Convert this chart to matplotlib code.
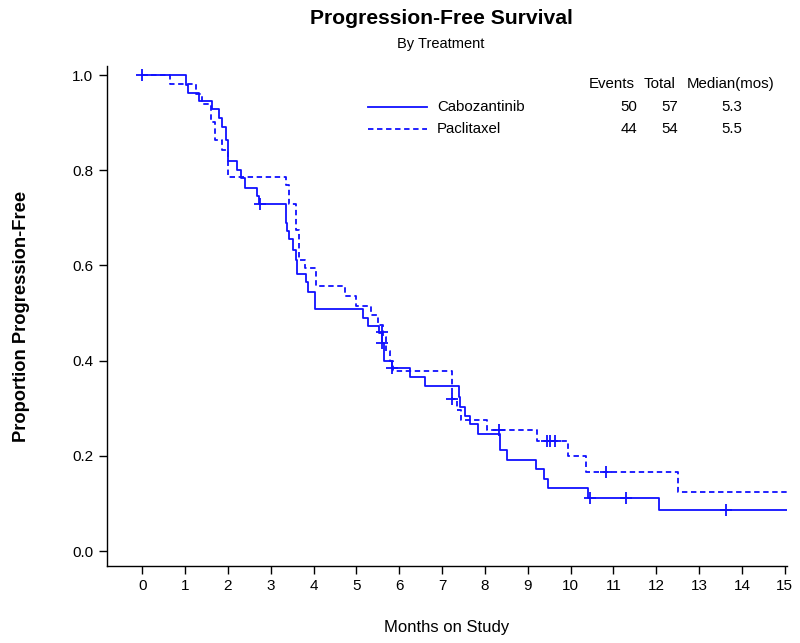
import matplotlib
matplotlib.use("Agg")
import matplotlib.pyplot as plt
from matplotlib import font_manager

# ---------------- data ----------------
cabo_t = [0, 1.02, 1.08, 1.33, 1.62, 1.79, 1.86, 1.96, 2.01, 2.22, 2.30, 2.40, 2.67, 2.73,
          3.35, 3.39, 3.43, 3.51, 3.59, 3.62, 3.82, 3.86, 4.03, 5.16, 5.28, 5.53, 5.59, 5.64,
          5.82, 6.25, 6.60, 7.40, 7.43, 7.53, 7.65, 7.84, 8.35, 8.52, 9.20, 9.38, 9.47,
          10.41, 12.06]
cabo_s = [1.0, 0.979, 0.962, 0.945, 0.928, 0.910, 0.890, 0.863, 0.820, 0.800, 0.783, 0.763, 0.746, 0.729,
          0.690, 0.672, 0.655, 0.632, 0.611, 0.583, 0.566, 0.545, 0.508, 0.490, 0.473, 0.457, 0.436, 0.400,
          0.384, 0.366, 0.346, 0.324, 0.303, 0.284, 0.266, 0.246, 0.212, 0.191, 0.172, 0.151, 0.132,
          0.112, 0.086]
cabo_cens_t = [0.0, 2.75, 5.60, 5.82, 10.45, 11.30, 13.63]
cabo_cens_s = [1.0, 0.729, 0.436, 0.384, 0.112, 0.112, 0.086]

pac_t = [0, 0.64, 1.26, 1.40, 1.61, 1.70, 1.87, 2.01, 3.36, 3.43, 3.59, 3.65, 3.80, 4.06, 4.74,
         4.99, 5.34, 5.50, 5.62, 5.68, 5.78, 5.85, 7.23, 7.35, 7.45, 8.05, 9.21, 9.94, 10.37, 12.50]
pac_s = [1.0, 0.981, 0.960, 0.940, 0.902, 0.863, 0.842, 0.786, 0.768, 0.730, 0.674, 0.611, 0.594, 0.557, 0.535,
         0.515, 0.496, 0.475, 0.450, 0.420, 0.400, 0.378, 0.319, 0.297, 0.275, 0.254, 0.232, 0.200, 0.165, 0.124]
pac_cens_t = [5.60, 7.24, 8.33, 9.45, 9.53, 9.63, 10.83]
pac_cens_s = [0.460, 0.319, 0.254, 0.232, 0.232, 0.232, 0.165]

x_max = 15.05
groups = ["Cabozantinib", "Paclitaxel"]
events = [50, 44]
totals = [57, 54]
medians = ["5.3", "5.5"]
x_ticks = list(range(0, 16))
y_ticks = [0.0, 0.2, 0.4, 0.6, 0.8, 1.0]

# ---------------- fonts ----------------
names = {f.name for f in font_manager.fontManager.ttflist}
if "Liberation Sans Narrow" in names:
    fam = ["Liberation Sans Narrow", "DejaVu Sans"]
    k = 1.15
else:
    fam = ["Liberation Sans", "DejaVu Sans"]
    k = 1.0
plt.rcParams["font.family"] = fam

blue = "#1010ff"

fig = plt.figure(figsize=(8.0, 6.43), dpi=100)
ax = fig.add_axes([107 / 800, 1 - 566 / 643, (787 - 107) / 800, (566 - 66) / 643])

ax.step(cabo_t + [x_max], cabo_s + [cabo_s[-1]], where="post", color=blue, lw=1.3)
ax.step(pac_t + [x_max], pac_s + [pac_s[-1]], where="post", color=blue, lw=1.3,
        linestyle=(0, (3, 2)))
ax.plot(cabo_cens_t, cabo_cens_s, "+", color=blue, ms=9, mew=1.3)
ax.plot(pac_cens_t, pac_cens_s, "+", color=blue, ms=9, mew=1.3)

ax.set_xlim(-0.82, x_max)
ax.set_ylim(-0.0315, 1.019)
ax.set_xticks(x_ticks)
ax.set_xticklabels([str(v) for v in x_ticks])
ax.set_yticks(y_ticks)
ax.set_yticklabels([f"{v:.1f}" for v in y_ticks])
ax.tick_params(direction="out", length=6, width=1.0, labelsize=11 * k, colors="black")
ax.tick_params(axis="x", pad=3)
ax.tick_params(axis="y", pad=4)
for side in ["top", "right"]:
    ax.spines[side].set_visible(False)
for side in ["left", "bottom"]:
    ax.spines[side].set_linewidth(1.0)

ax.set_xlabel("Months on Study", fontsize=12 * k, labelpad=20)
ax.set_ylabel("Proportion Progression-Free", fontsize=13.2 * k, fontweight="bold", labelpad=30)

fig.text(441 / 800, 1 - 18 / 643, "Progression-Free Survival", ha="center", va="center",
         fontsize=15.2 * k, fontweight="bold")
fig.text(441 / 800, 1 - 44 / 643, "By Treatment", ha="center", va="center", fontsize=10.5 * k)

# legend / summary table
fs = 10.8 * k
fig.text(635 / 800, 1 - 84 / 643, "Events", ha="right", va="center", fontsize=fs)
fig.text(676 / 800, 1 - 84 / 643, "Total", ha="right", va="center", fontsize=fs)
fig.text(731 / 800, 1 - 84 / 643, "Median(mos)", ha="center", va="center", fontsize=fs)
row_y = [107, 129]
styles = ["-", (0, (3, 2))]
for name, ev, tot, med, yy, ls in zip(groups, events, totals, medians, row_y, styles):
    yf = 1 - yy / 643
    fig.add_artist(plt.Line2D([368 / 800, 427 / 800], [yf, yf], color=blue, lw=1.3, linestyle=ls))
    fig.text(437 / 800, yf, name, ha="left", va="center", fontsize=fs)
    fig.text(637 / 800, yf, str(ev), ha="right", va="center", fontsize=fs)
    fig.text(678 / 800, yf, str(tot), ha="right", va="center", fontsize=fs)
    fig.text(732 / 800, yf, med, ha="center", va="center", fontsize=fs)

fig.savefig("out.png", dpi=100)
